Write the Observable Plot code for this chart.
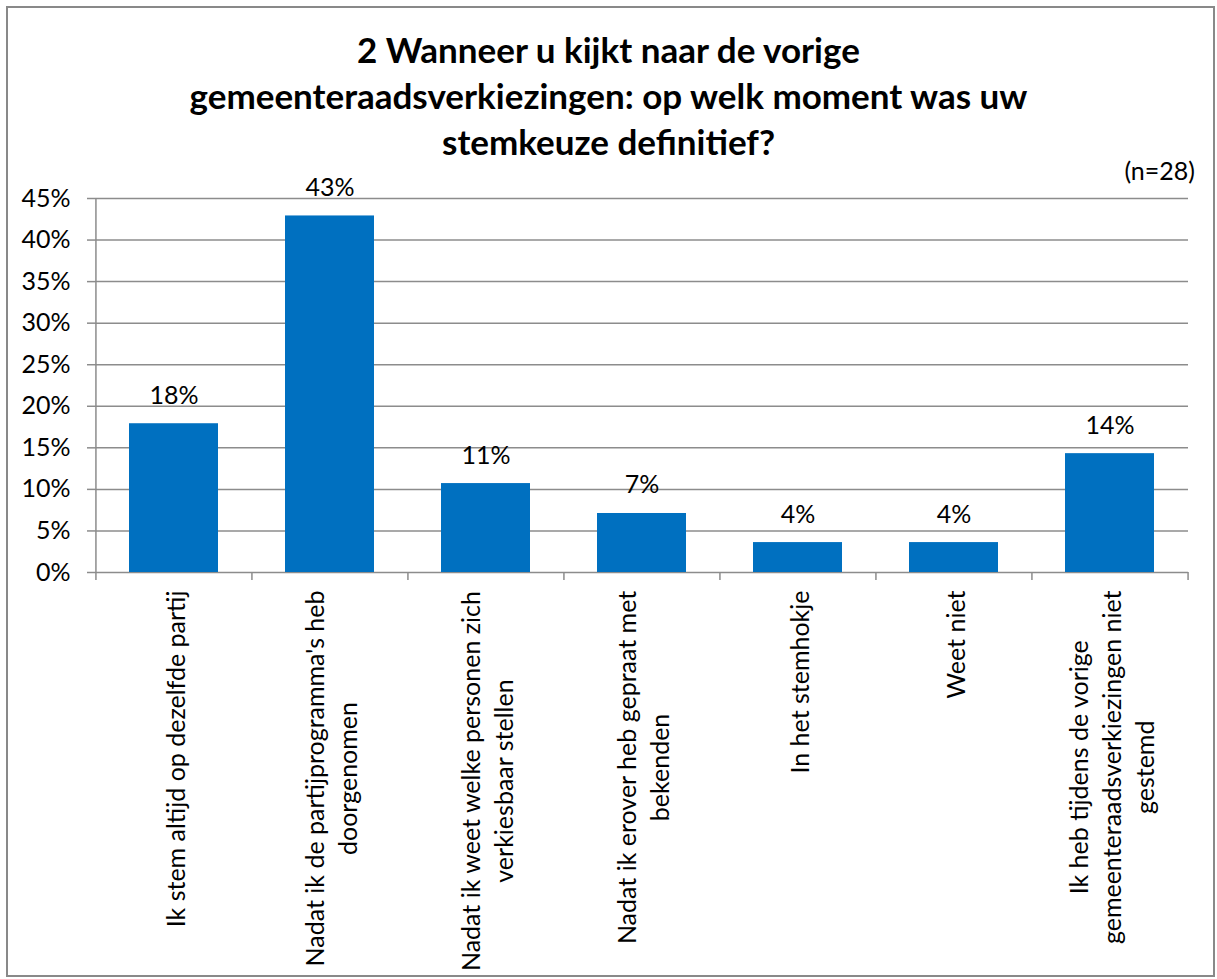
<!DOCTYPE html>
<html><head><meta charset="utf-8">
<script src="https://cdn.jsdelivr.net/npm/d3@7"></script>
<script src="https://cdn.jsdelivr.net/npm/@observablehq/plot@0.6"></script>
<style>
html,body{margin:0;padding:0;background:#fff;}
#page{position:relative;width:1217px;height:979px;overflow:hidden;font-family:Lato,sans-serif;color:#000;}
#border{position:absolute;left:6px;top:6px;width:1209px;height:971px;box-sizing:border-box;border:2px solid #898989;}
#title{position:absolute;left:0;top:26px;width:1217px;text-align:center;font-weight:bold;font-size:35px;line-height:46px;margin:0;}
#n{position:absolute;right:22px;top:155px;font-size:25px;line-height:30px;}
#chart{position:absolute;left:0;top:160px;}
</style></head><body>
<div id="page">
  <div id="border"></div>
  <h1 id="title">2 Wanneer u kijkt naar de vorige<br>gemeenteraadsverkiezingen: op welk moment was uw<br>stemkeuze definitief?</h1>
  <div id="n">(n=28)</div>
  <div id="chart"></div>
</div>
<script>
const categories = [
  "Ik stem altijd op dezelfde partij",
  "Nadat ik de partijprogramma's heb\ndoorgenomen",
  "Nadat ik weet welke personen zich\nverkiesbaar stellen",
  "Nadat ik erover heb gepraat met\nbekenden",
  "In het stemhokje",
  "Weet niet",
  "Ik heb tijdens de vorige\ngemeenteraadsverkiezingen niet\ngestemd"
];
const values = [0.179, 0.429, 0.107, 0.071, 0.036, 0.036, 0.143];
const yTicks = [0, 0.05, 0.10, 0.15, 0.20, 0.25, 0.30, 0.35, 0.40, 0.45];

const data = categories.map((c, i) => ({cat: c, value: values[i]}));
const fmt = d3.format(".0%");

const W = 1217, H = 819, mL = 95, mR = 29, mT = 38, mB = 407;
const tickSize = 25;
const labelSize = 25;
const step = (W - mL - mR) / categories.length;
const gray = "#8c8c8c";

const ctx = document.createElement("canvas").getContext("2d");
ctx.font = `${labelSize}px Lato`;
const maxW = s => Math.max(...s.split("\n").map(l => ctx.measureText(l).width));

const chart = Plot.plot({
  width: W, height: H,
  marginLeft: mL, marginRight: mR, marginTop: mT, marginBottom: mB,
  style: {fontFamily: "Lato, sans-serif", fontSize: tickSize + "px", color: "black", background: "transparent", overflow: "visible"},
  x: {domain: categories, paddingInner: 0.43, paddingOuter: 0.215, axis: null},
  y: {domain: [0, 0.45], axis: null},
  marks: [
    Plot.gridY(yTicks, {stroke: gray, strokeOpacity: 1, strokeWidth: 1.5}),
    Plot.axisY(yTicks, {label: null, tickFormat: fmt, tickSize: 8, tickPadding: 17, stroke: gray, strokeWidth: 1.5, fill: "black", fontSize: tickSize}),
    Plot.barY(data, {x: "cat", y: "value", fill: "#0070C0"}),
    Plot.ruleX([categories[0]], {x: d => d, y1: () => 0.45, y2: () => 0, dx: -step / 2, insetBottom: -8, stroke: gray, strokeWidth: 1.5}),
    Plot.ruleX(categories.slice(1), {x: d => d, y1: () => 0, y2: () => 0, dx: -step / 2, insetBottom: -8, stroke: gray, strokeWidth: 1.5}),
    Plot.ruleX([categories[categories.length - 1]], {x: d => d, y1: () => 0, y2: () => 0, dx: step / 2, insetBottom: -8, stroke: gray, strokeWidth: 1.5}),
    Plot.text(data, {x: "cat", y: "value", text: d => fmt(d.value), lineAnchor: "bottom", dy: -20, fill: "black", fontSize: tickSize}),
    ...categories.map(c => Plot.text([c], {
      x: d => d, text: d => d, frameAnchor: "bottom", rotate: -90,
      textAnchor: "middle", lineAnchor: "middle", lineHeight: 1.32, dy: 18 + maxW(c) / 2,
      fill: "black", fontSize: labelSize
    }))
  ]
});
document.getElementById("chart").appendChild(chart);
</script>
</body></html>
